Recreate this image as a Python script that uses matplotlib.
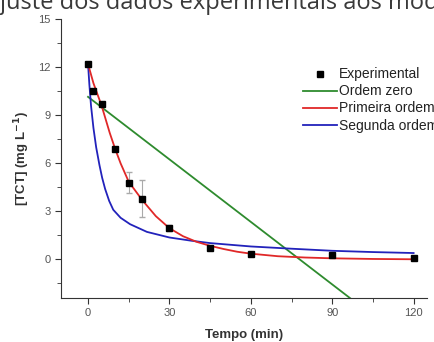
import numpy as np
import matplotlib
matplotlib.use("Agg")
import matplotlib.pyplot as plt
from matplotlib.ticker import MultipleLocator

plt.rcParams['font.family'] = ['Liberation Sans', 'DejaVu Sans']

# experimental points
t_exp = [0, 2, 5, 10, 15, 20, 30, 45, 60, 90, 120]
c_exp = [12.2, 10.5, 9.7, 6.9, 4.8, 3.8, 1.95, 0.73, 0.32, 0.3, 0.06]
c_err = [0, 0, 0, 0, 0.65, 1.15, 0.2, 0.1, 0, 0, 0]

# ordem zero (straight line)
t_zero = [0, 98]
c_zero = [10.15, -2.6]

# primeira ordem
t_first = [0, 2, 5, 8, 10, 12, 15, 20, 25, 30, 35, 40, 45, 50, 55, 60, 70, 80, 90, 105, 120]
c_first = [12.2, 11.0, 9.6, 7.9, 6.9, 6.0, 4.85, 3.7, 2.7, 1.95, 1.45, 1.1, 0.85,
           0.65, 0.48, 0.36, 0.2, 0.12, 0.07, 0.03, 0.01]

# segunda ordem
t_second = [0, 0.5, 1.1, 2, 3, 4.2, 5.2, 6.3, 7.8, 9.3, 12, 15.5, 21.7, 30, 38,
            45, 60, 75, 90, 105, 120]
c_second = [12.2, 10.9, 9.6, 8.2, 7.0, 5.9, 5.1, 4.4, 3.65, 3.1, 2.6, 2.2, 1.72,
            1.37, 1.17, 1.02, 0.81, 0.67, 0.54, 0.46, 0.4]

fig = plt.figure(figsize=(4.35, 3.42), dpi=100)
ax = fig.add_axes([0.140, 0.129, 0.842, 0.815])

ax.plot(t_zero, c_zero, color='#2e8b2e', lw=1.3, label='Ordem zero', zorder=2)
ax.plot(t_first, c_first, color='#e02828', lw=1.3, label='Primeira ordem', zorder=3)
ax.plot(t_second, c_second, color='#2222bb', lw=1.3, label='Segunda ordem', zorder=2)
ax.errorbar(t_exp, c_exp, yerr=c_err, fmt='none', ecolor='#aaaaaa', elinewidth=0.8,
            capsize=2, zorder=4)
ax.plot(t_exp, c_exp, 's', color='black', ms=4.5, ls='none', label='Experimental', zorder=5)

ax.set_xlim(-10, 125)
ax.set_ylim(-2.4, 15)
ax.xaxis.set_major_locator(MultipleLocator(30))
ax.xaxis.set_minor_locator(MultipleLocator(15))
ax.yaxis.set_major_locator(MultipleLocator(3))
ax.yaxis.set_minor_locator(MultipleLocator(1.5))
ax.set_yticks([0, 3, 6, 9, 12, 15])
ax.tick_params(which='both', direction='out', colors='#333333', labelcolor='#555555',
               labelsize=8)
ax.tick_params(which='major', length=4)
ax.tick_params(which='minor', length=3)
for side in ['top', 'right']:
    ax.spines[side].set_visible(False)
for side in ['left', 'bottom']:
    ax.spines[side].set_color('#333333')

ax.set_xlabel('Tempo (min)', fontsize=9.5, fontweight='bold', color='#333333', labelpad=8)
ax.set_ylabel('[TCT] (mg L$^{\\mathbf{-1}}$)', fontsize=9.5, fontweight='bold',
              color='#333333', labelpad=4)

h, l = ax.get_legend_handles_labels()
order = [3, 0, 1, 2]
fig.legend([h[i] for i in order], [l[i] for i in order], loc='upper left',
           bbox_to_anchor=(0.697, 0.803), frameon=False, fontsize=10,
           handlelength=2.45, handletextpad=0.1, labelspacing=0.22, borderpad=0,
           borderaxespad=0, labelcolor='#222222')

fig.text(-0.035, 0.975, 'Ajuste dos dados experimentais aos modelos cinéticos',
         fontsize=17, color='#3a3a3a', family='Open Sans', va='baseline', ha='left')

fig.savefig('out.png', dpi=100)
